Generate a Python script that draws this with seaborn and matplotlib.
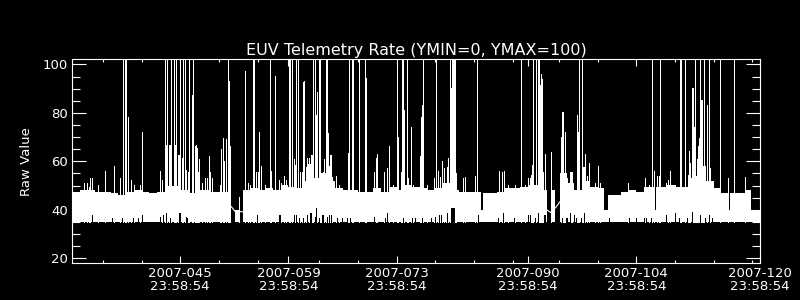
import numpy as np
import pandas as pd
import matplotlib
matplotlib.use("Agg")
import matplotlib.pyplot as plt
from matplotlib.ticker import MultipleLocator
import seaborn as sns

# ---------------- data ----------------
title = "EUV Telemetry Rate (YMIN=0, YMAX=100)"
ylabel = "Raw Value"
xtick_days = [45, 59, 73, 90, 104, 120]
xtick_labels = ["2007-045\n23:58:54", "2007-059\n23:58:54", "2007-073\n23:58:54",
                "2007-090\n23:58:54", "2007-104\n23:58:54", "2007-120\n23:58:54"]
x_minor_days = [35, 40, 50, 55, 63, 68, 78, 83, 88, 94, 99, 109, 114, 119]
y_major = [20, 40, 60, 80, 100]

band_floor = 35.0
band_end = 120.0
nan = np.nan
band_start = [31, 32, 33, 34, 35, 36, 37, 38, 39, 40, 41, 42, 43, 44, 45, 46, 47, 48, 49, 50,
              51, 51.6, 52.12, 52.55, 53.07, 54, 55, 56, 57, 58, 59, 60, 61, 61.5, 62, 63, 64,
              64.5, 65, 66, 67, 68, 69, 70, 71, 72, 73, 74, 75, 76, 77, 78, 79, 80, 81, 82, 83,
              83.97, 84.18, 85, 86, 87, 88, 89, 90, 91, 92, 92.41, 93.0, 93.48, 94.18, 95, 96,
              97, 98, 99, 99.78, 100.34, 101, 102, 103, 104, 105, 106, 106.36, 106.49, 107,
              108, 109, 110, 111, 112, 113, 114, 115, 116, 116.05, 116.18, 117, 118, 118.85]
band_top = [47.5, 48.2, 48.2, 47.5, 47.5, 46.8, 46.1, 47.5, 48.2, 47.5, 46.8, 47.5, 50.0, 50.0,
            48.2, 47.0, 48.2, 48.2, 47.5, 47.5, 47.5, nan, 39.9, nan, 48.2, 48.8, 48.2, 48.8,
            48.2, 50.2, 49.5, 48.8, 52.0, 59.0, 53.0, 55.0, 58.0, 52.0, 48.8, 48.2, 48.2, 47.5,
            47.5, 48.8, 47.5, 49.5, 48.2, 50.2, 49.5, 48.8, 48.2, 48.8, 50.9, 48.2, 47.5, 47.5,
            47.5, 39.9, 46.8, 46.8, 47.5, 48.8, 48.8, 49.5, 50.2, 50.2, 48.2, nan, 48.2, nan,
            55.0, 50.9, 48.2, 52.0, 49.5, 48.8, 39.9, 46.1, 46.1, 47.5, 48.2, 47.5, 49.5, 49.5,
            39.9, 49.5, 49.5, 50.2, 49.5, 49.5, 53.0, 58.0, 52.0, 48.8, 46.8, 46.8, 39.9, 46.8,
            46.8, 48.2, 39.9]

spike_day = [32.61, 32.95, 33.17, 33.38, 33.64, 34.42, 35.23, 36.48, 37.26, 37.56, 37.90, 38.03,
             38.20, 38.68, 39.07, 39.84, 40.10, 42.42, 42.64, 42.98, 43.15, 43.28, 43.50, 43.63,
             43.80, 44.14, 44.32, 44.49, 44.66, 44.83, 45.01, 45.18, 45.35, 45.65, 45.78, 45.95,
             46.09, 46.52, 46.65, 46.87, 47.04, 47.17, 47.30, 47.47, 47.81, 48.16, 48.46, 48.76,
             48.89, 49.10, 50.09, 50.31, 50.48, 50.65, 50.95, 51.13, 51.26, 51.39, 52.55, 53.41,
             53.75, 54.05, 54.40, 54.53, 54.83, 55.00, 55.13, 55.47, 55.99, 56.55, 56.77, 57.28,
             57.80, 58.02, 58.45, 58.70, 59.13, 59.26, 59.44, 59.69, 59.87, 60.04, 60.30, 60.55,
             60.73, 60.94, 61.03, 61.24, 61.46, 61.67, 61.93, 62.06, 62.23, 62.40, 62.53, 62.71,
             62.92, 63.05, 63.22, 63.44, 63.65, 63.87, 63.99, 64.17, 64.38, 64.51, 64.69, 65.12,
             65.59, 66.67, 66.88, 67.18, 67.31, 68.09, 68.90, 69.03, 70.07, 70.32, 70.50, 71.36,
             71.70, 72.05, 72.48, 73.08, 73.21, 73.51, 73.68, 73.81, 73.94, 74.29, 74.50, 74.84,
             75.15, 76.05, 76.18, 76.31, 76.44, 76.87, 77.86, 78.07, 78.37, 78.59, 78.89, 79.15,
             79.32, 79.54, 79.66, 79.84, 80.02, 80.14, 80.26, 80.38, 80.49, 80.61, 81.52, 81.82,
             83.11, 83.37, 86.25, 86.64, 86.90, 87.41, 88.27, 89.05, 89.57, 90.00, 90.21, 90.34,
             90.51, 90.69, 91.08, 91.25, 91.38, 91.51, 91.73, 91.86, 91.94, 92.20, 93.00, 94.22,
             94.40, 94.52, 94.65, 94.83, 95.08, 95.39, 95.56, 95.73, 96.33, 96.46, 96.59, 96.94,
             97.11, 97.28, 97.37, 97.62, 97.88, 98.61, 99.04, 99.35, 102.92, 105.12, 105.59,
             106.02, 106.23, 106.71, 106.88, 107.01, 107.87, 108.08, 108.30, 108.94, 109.68,
             109.81, 110.28, 110.71, 110.84, 110.97, 111.14, 111.27, 111.40, 111.53, 111.74,
             111.87, 112.00, 112.17, 112.30, 112.43, 112.56, 112.69, 112.82, 113.16, 113.34,
             113.55, 114.88, 115.83, 116.61, 118.07]
spike_top = [50.9, 50.9, 49.5, 53.0, 53.0, 50.2, 56.0, 58.1, 53.0, 105, 105, 105,
             78.4, 52.3, 50.2, 50.2, 71.9, 56.0, 52.3, 105, 66.7, 105, 66.7, 66.7,
             105, 105, 66.7, 105, 62.6, 62.6, 99.7, 61.2, 105, 105, 56.4, 55.7,
             105, 87.3, 105, 66.4, 66.7, 65.5, 55.7, 61.0, 50.9, 53.0, 53.0, 62.2,
             55.7, 53.0, 50.2, 65.1, 69.8, 60.0, 69.2, 105, 93.1, 66.4, 45.4, 97.2,
             50.9, 50.2, 105, 105, 55.7, 55.7, 71.9, 58.1, 50.2, 105, 56.0, 95.2,
             52.3, 50.9, 54.1, 52.3, 105, 105, 105, 61.0, 58.5, 105, 105, 55.7,
             55.7, 92.8, 93.1, 57.8, 61.2, 61.2, 62.6, 62.6, 105, 105, 79.1, 88.7,
             105, 105, 53.0, 55.7, 61.0, 105, 105, 71.5, 62.6, 62.6, 53.7, 54.1,
             50.2, 63.3, 105, 105, 105, 105, 105, 94.5, 55.7, 61.2, 62.9, 55.7,
             57.1, 66.4, 50.2, 105, 70.2, 55.7, 105, 105, 81.2, 105, 53.0, 74.3,
             50.2, 62.2, 78.4, 83.2, 105, 50.2, 53.0, 105, 56.0, 53.7, 60.1, 57.1,
             50.9, 57.8, 61.2, 105, 90.1, 105, 105, 105, 105, 55.0, 53.0, 53.7,
             54.1, 105, 56.0, 55.7, 56.0, 50.2, 50.2, 105, 50.2, 53.0, 53.0, 54.4,
             58.5, 105, 105, 105, 105, 91.5, 96.0, 94.0, 55.7, 62.9, 64.0, 70.2,
             80.5, 80.5, 53.0, 72.2, 53.0, 55.7, 55.7, 55.7, 79.1, 72.2, 105, 105,
             57.8, 57.8, 62.9, 54.1, 59.2, 50.9, 58.1, 50.9, 50.9, 53.0, 50.2,
             105, 56.0, 54.1, 54.1, 105, 50.9, 52.3, 56.0, 50.2, 105,
             105, 105, 54.4, 64.3, 59.2, 90.1, 90.1, 74.3, 105, 54.1,
             61.0, 66.4, 69.5, 105, 85.3, 85.3, 56.0, 105, 83.2, 105,
             57.1, 105, 53.0, 105, 53.7]

floor_day = [33.64, 36.22, 37.52, 38.90, 39.50, 40.10, 42.42, 42.72, 43.20, 43.71, 44.83, 45.00,
             45.78, 45.88, 54.91, 57.80, 57.97, 59.69, 59.95, 60.38, 60.94, 61.46, 61.80, 61.97,
             62.45, 62.58, 62.92, 63.35, 63.52, 63.95, 64.30, 64.51, 65.24, 65.89, 66.62, 66.97,
             70.07, 71.49, 71.79, 73.77, 74.93, 75.36, 76.22, 77.43, 77.99, 78.50, 78.72, 79.54,
             80.05, 80.17, 80.29, 80.41, 83.54, 86.12, 86.77, 88.19, 90.00, 90.25, 90.95, 91.30,
             92.07, 92.24, 94.40, 94.87, 95.04, 95.43, 95.90, 96.25, 96.89, 97.24, 100.42, 103.00,
             104.00, 104.94, 105.20, 105.93, 107.87, 109.03, 109.46, 110.58, 111.23, 112.26,
             112.90, 113.34, 113.81]
floor_val = [37.9, 36.5, 36.5, 36.5, 36.5, 37.9, 37.0, 37.9, 38.5, 36.5, 38.5, 38.5,
             37.0, 36.5, 37.9, 37.9, 37.9, 37.9, 37.9, 36.5, 36.5, 37.9, 38.5, 38.5,
             37.0, 40.6, 36.5, 37.9, 37.9, 37.0, 37.9, 37.9, 36.5, 36.5, 36.5, 36.5,
             37.0, 36.5, 38.5, 36.5, 36.5, 36.5, 36.5, 36.5, 37.0, 37.9, 37.9, 38.5,
             40.6, 40.6, 40.6, 40.6, 37.9, 36.5, 38.5, 36.5, 37.9, 37.9, 36.5, 38.5,
             37.9, 37.9, 36.5, 36.5, 36.5, 38.5, 37.9, 36.5, 36.5, 38.5, 36.5, 36.5,
             36.5, 36.5, 36.5, 36.5, 37.9, 38.5, 36.5, 36.5, 39.2, 37.9,
             36.5, 37.9, 36.5]

gap_seg = [0, 0, 0, 1, 1, 2, 2]
gap_day = [51.60, 52.12, 53.07, 92.41, 93.00, 93.48, 94.13]
gap_val = [41.3, 39.2, 39.2, 39.9, 38.8, 40.6, 43.3]

# ---------------- style ----------------
sns.set_style("ticks")
plt.rcParams["font.family"] = ["DejaVu Sans"]
plt.rcParams["axes.facecolor"] = "black"
plt.rcParams["figure.facecolor"] = "black"

fig = plt.figure(figsize=(8, 3), dpi=100, facecolor="black")
ax = fig.add_axes([0.09, 0.1223, 0.86, 0.68])
ax.set_facecolor("black")

# band (per-segment envelope of the fast-varying rate)
starts = np.asarray(band_start, dtype=float)
widths = np.diff(np.append(starts, band_end))
tops = np.asarray(band_top, dtype=float)
ax.bar(starts, tops - band_floor, bottom=band_floor, width=widths, align="edge",
       color="white", linewidth=0, antialiased=False, zorder=1)

# spikes (1 px lines)
ax.vlines(spike_day, band_floor, spike_top, colors="white", linewidth=0.72,
          antialiased=False, zorder=2)
# columns whose minimum stays above the floor
ax.vlines(floor_day, band_floor - 0.4, floor_val, colors="black", linewidth=0.72,
          antialiased=False, zorder=3)

# interpolated lines across data gaps
gap_df = pd.DataFrame({"seg": gap_seg, "day": gap_day, "value": gap_val})
sns.lineplot(data=gap_df, x="day", y="value", units="seg", estimator=None,
             color="white", linewidth=0.8, ax=ax, legend=False, sort=False, zorder=4)

ax.set_xlim(31.0, 120.0)
ax.set_ylim(17.9, 102.1)
ax.set_xticks(xtick_days)
ax.set_xticklabels(xtick_labels, linespacing=1.0)
ax.set_xticks(x_minor_days, minor=True)
ax.set_yticks(y_major)
ax.yaxis.set_minor_locator(MultipleLocator(5))

ax.tick_params(axis="both", which="both", direction="in", top=True, right=True,
               colors="white", width=0.8, labelsize=9.5)
ax.tick_params(axis="y", which="major", length=10, pad=3)
ax.tick_params(axis="y", which="minor", length=5.5)
ax.tick_params(axis="x", which="major", length=4.8, pad=3)
ax.tick_params(axis="x", which="minor", length=2.4)
ax.tick_params(labelright=False, labeltop=False)

for sp in ax.spines.values():
    sp.set_color("white")
    sp.set_linewidth(0.8)
    sp.set_visible(True)
    sp.set_zorder(5)

ax.set_xlabel("")
ax.set_ylabel(ylabel, color="white", fontsize=9.5)
ax.yaxis.set_label_coords(-0.057, 0.5)
ax.set_title(title, color="white", fontsize=11.5, pad=3)
ax.grid(False)

fig.savefig("out.png", dpi=100, facecolor="black")
